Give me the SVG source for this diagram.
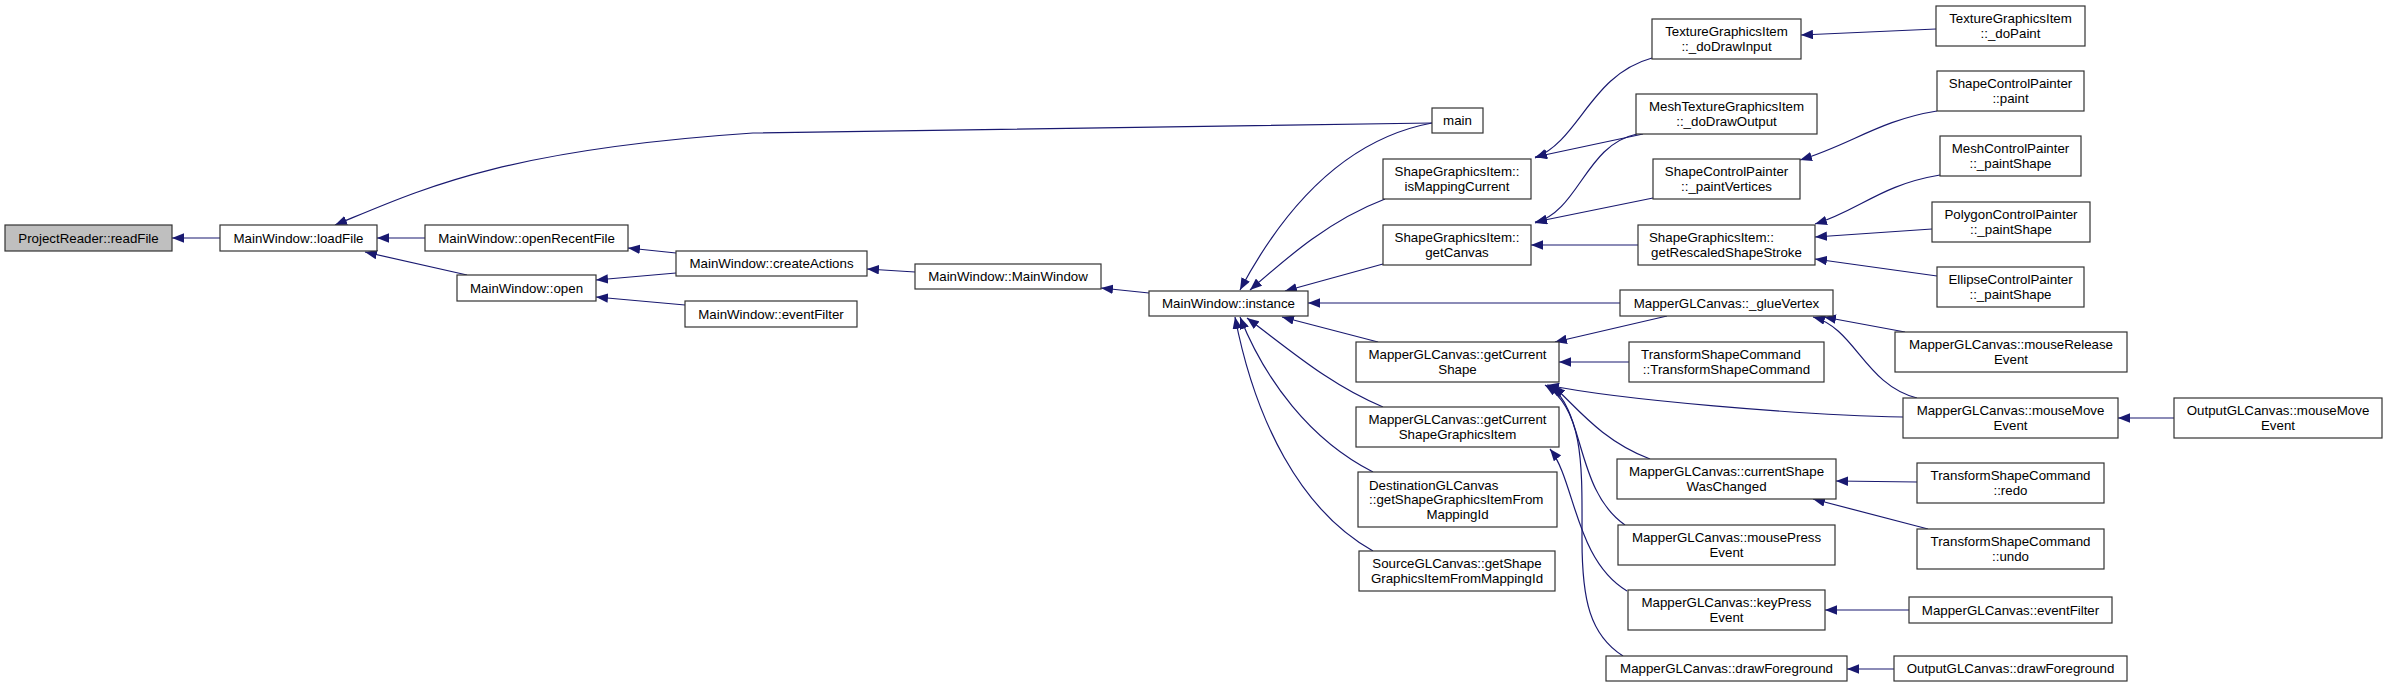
<svg xmlns="http://www.w3.org/2000/svg" width="2387" height="687" viewBox="0 0 2387 687">
<defs>
<marker id="ah" viewBox="0 0 12 9.5" refX="12" refY="4.75" markerWidth="12" markerHeight="9.5" markerUnits="userSpaceOnUse" orient="auto-start-reverse"><path d="M0,0L12,4.75L0,9.5z" fill="#191970"/></marker>
<style>
rect{fill:#fff;stroke:#333;stroke-width:1.2}
rect.hl{fill:#bfbfbf}
text{font-family:"Liberation Sans",Arial,Helvetica,sans-serif;font-size:13.3px;fill:#000;text-anchor:middle}
text.l{text-anchor:start}
.e path{fill:none;stroke:#191970;stroke-width:1.2;marker-start:url(#ah)}
</style>
</defs>
<rect x="0" y="0" width="2387" height="687" style="fill:#fff;stroke:none"/>
<g class="e" id="connectors">
<path d="M172,238L220,238"/>
<path d="M377,238L425,238"/>
<path d="M365,252L467,275"/>
<path d="M335,225C420,190 500,150 753,133L1432,123"/>
<path d="M628,248L676,253"/>
<path d="M596,280L676,273"/>
<path d="M596,297L685,305"/>
<path d="M867,269L915,272"/>
<path d="M1101,288L1149,293"/>
<path d="M1240,290C1280,215 1340,140 1432,123"/>
<path d="M1250,290C1290,255 1330,220 1385,199"/>
<path d="M1285,291L1383,264"/>
<path d="M1308,303L1620,303"/>
<path d="M1282,317L1378,342"/>
<path d="M1247,318C1290,350 1330,385 1383,407"/>
<path d="M1240,317C1265,380 1310,440 1373,472"/>
<path d="M1235,317C1255,420 1300,510 1373,551"/>
<path d="M1535,158C1580,140 1590,75 1652,58"/>
<path d="M1535,157L1643,134"/>
<path d="M1535,223C1580,210 1585,145 1637,134"/>
<path d="M1535,222L1653,198"/>
<path d="M1531,245L1638,245"/>
<path d="M1801,35L1936,29"/>
<path d="M1800,160C1850,145 1880,120 1937,111"/>
<path d="M1815,224C1860,210 1880,185 1940,175"/>
<path d="M1815,237L1932,229"/>
<path d="M1815,259L1937,276"/>
<path d="M1824,317L1905,332"/>
<path d="M1813,317C1855,328 1865,385 1917,398"/>
<path d="M1555,342L1667,316"/>
<path d="M1559,362L1629,362"/>
<path d="M1547,385C1620,400 1800,415 1903,417"/>
<path d="M1553,386C1575,405 1600,440 1650,459"/>
<path d="M1550,386C1585,410 1575,490 1625,525"/>
<path d="M1545,385C1585,410 1582,470 1582,540C1582,600 1590,635 1623,656"/>
<path d="M1550,449C1575,480 1575,560 1627,591"/>
<path d="M1836,481L1917,482"/>
<path d="M1813,499L1928,529"/>
<path d="M1825,610L1909,610"/>
<path d="M1847,669L1894,669"/>
<path d="M2118,418L2174,418"/>
</g>
<g id="n1"><rect class="hl" x="5" y="225" width="167" height="26"/><text x="88.5" y="242.5">ProjectReader::readFile</text></g>
<g id="n2"><rect x="220" y="225" width="157" height="26"/><text x="298.5" y="242.5">MainWindow::loadFile</text></g>
<g id="n3"><rect x="425" y="225" width="203" height="26"/><text x="526.5" y="242.5">MainWindow::openRecentFile</text></g>
<g id="n4"><rect x="457" y="275" width="139" height="26"/><text x="526.5" y="292.5">MainWindow::open</text></g>
<g id="n5"><rect x="676" y="251" width="191" height="25"/><text x="771.5" y="268">MainWindow::createActions</text></g>
<g id="n6"><rect x="685" y="301" width="172" height="26"/><text x="771" y="318.5">MainWindow::eventFilter</text></g>
<g id="n7"><rect x="915" y="264" width="186" height="25"/><text x="1008" y="281">MainWindow::MainWindow</text></g>
<g id="n8"><rect x="1149" y="291" width="159" height="25"/><text x="1228.5" y="308">MainWindow::instance</text></g>
<g id="n9"><rect x="1432" y="108" width="51" height="25"/><text x="1457.5" y="125">main</text></g>
<g id="n10"><rect x="1383" y="159" width="148" height="40"/><text x="1457" y="176.25">ShapeGraphicsItem::</text><text x="1457" y="190.75">isMappingCurrent</text></g>
<g id="n11"><rect x="1383" y="225" width="148" height="40"/><text x="1457" y="242.25">ShapeGraphicsItem::</text><text x="1457" y="256.75">getCanvas</text></g>
<g id="n12"><rect x="1356" y="342" width="203" height="40"/><text x="1457.5" y="359.25">MapperGLCanvas::getCurrent</text><text x="1457.5" y="373.75">Shape</text></g>
<g id="n13"><rect x="1356" y="407" width="203" height="40"/><text x="1457.5" y="424.25">MapperGLCanvas::getCurrent</text><text x="1457.5" y="438.75">ShapeGraphicsItem</text></g>
<g id="n14"><rect x="1358" y="472" width="199" height="55"/><text class="l" x="1369" y="489.5">DestinationGLCanvas</text><text class="l" x="1369" y="504">::getShapeGraphicsItemFrom</text><text x="1457.5" y="518.5">MappingId</text></g>
<g id="n15"><rect x="1359" y="551" width="196" height="40"/><text x="1457" y="568.25">SourceGLCanvas::getShape</text><text x="1457" y="582.75">GraphicsItemFromMappingId</text></g>
<g id="n16"><rect x="1652" y="19" width="149" height="40"/><text x="1726.5" y="36.25">TextureGraphicsItem</text><text x="1726.5" y="50.75">::_doDrawInput</text></g>
<g id="n17"><rect x="1636" y="94" width="181" height="40"/><text x="1726.5" y="111.25">MeshTextureGraphicsItem</text><text x="1726.5" y="125.75">::_doDrawOutput</text></g>
<g id="n18"><rect x="1653" y="159" width="147" height="40"/><text x="1726.5" y="176.25">ShapeControlPainter</text><text x="1726.5" y="190.75">::_paintVertices</text></g>
<g id="n19"><rect x="1638" y="225" width="177" height="40"/><text class="l" x="1649" y="242.25">ShapeGraphicsItem::</text><text x="1726.5" y="256.75">getRescaledShapeStroke</text></g>
<g id="n20"><rect x="1620" y="290" width="213" height="26"/><text x="1726.5" y="307.5">MapperGLCanvas::_glueVertex</text></g>
<g id="n21"><rect x="1629" y="342" width="195" height="40"/><text class="l" x="1641" y="359.25">TransformShapeCommand</text><text x="1726.5" y="373.75">::TransformShapeCommand</text></g>
<g id="n22"><rect x="1617" y="459" width="219" height="40"/><text x="1726.5" y="476.25">MapperGLCanvas::currentShape</text><text x="1726.5" y="490.75">WasChanged</text></g>
<g id="n23"><rect x="1618" y="525" width="217" height="40"/><text x="1726.5" y="542.25">MapperGLCanvas::mousePress</text><text x="1726.5" y="556.75">Event</text></g>
<g id="n24"><rect x="1628" y="590" width="197" height="40"/><text x="1726.5" y="607.25">MapperGLCanvas::keyPress</text><text x="1726.5" y="621.75">Event</text></g>
<g id="n25"><rect x="1606" y="656" width="241" height="25"/><text x="1726.5" y="673">MapperGLCanvas::drawForeground</text></g>
<g id="n26"><rect x="1936" y="6" width="149" height="40"/><text x="2010.5" y="23.25">TextureGraphicsItem</text><text x="2010.5" y="37.75">::_doPaint</text></g>
<g id="n27"><rect x="1937" y="71" width="147" height="40"/><text x="2010.5" y="88.25">ShapeControlPainter</text><text x="2010.5" y="102.75">::paint</text></g>
<g id="n28"><rect x="1940" y="136" width="141" height="40"/><text x="2010.5" y="153.25">MeshControlPainter</text><text x="2010.5" y="167.75">::_paintShape</text></g>
<g id="n29"><rect x="1932" y="202" width="158" height="40"/><text x="2011" y="219.25">PolygonControlPainter</text><text x="2011" y="233.75">::_paintShape</text></g>
<g id="n30"><rect x="1937" y="267" width="147" height="40"/><text x="2010.5" y="284.25">EllipseControlPainter</text><text x="2010.5" y="298.75">::_paintShape</text></g>
<g id="n31"><rect x="1895" y="332" width="232" height="40"/><text x="2011" y="349.25">MapperGLCanvas::mouseRelease</text><text x="2011" y="363.75">Event</text></g>
<g id="n32"><rect x="1903" y="398" width="215" height="40"/><text x="2010.5" y="415.25">MapperGLCanvas::mouseMove</text><text x="2010.5" y="429.75">Event</text></g>
<g id="n33"><rect x="1917" y="463" width="187" height="40"/><text x="2010.5" y="480.25">TransformShapeCommand</text><text x="2010.5" y="494.75">::redo</text></g>
<g id="n34"><rect x="1917" y="529" width="187" height="40"/><text x="2010.5" y="546.25">TransformShapeCommand</text><text x="2010.5" y="560.75">::undo</text></g>
<g id="n35"><rect x="1909" y="597" width="203" height="26"/><text x="2010.5" y="614.5">MapperGLCanvas::eventFilter</text></g>
<g id="n36"><rect x="1894" y="656" width="233" height="25"/><text x="2010.5" y="673">OutputGLCanvas::drawForeground</text></g>
<g id="n37"><rect x="2174" y="398" width="208" height="40"/><text x="2278" y="415.25">OutputGLCanvas::mouseMove</text><text x="2278" y="429.75">Event</text></g>
</svg>
